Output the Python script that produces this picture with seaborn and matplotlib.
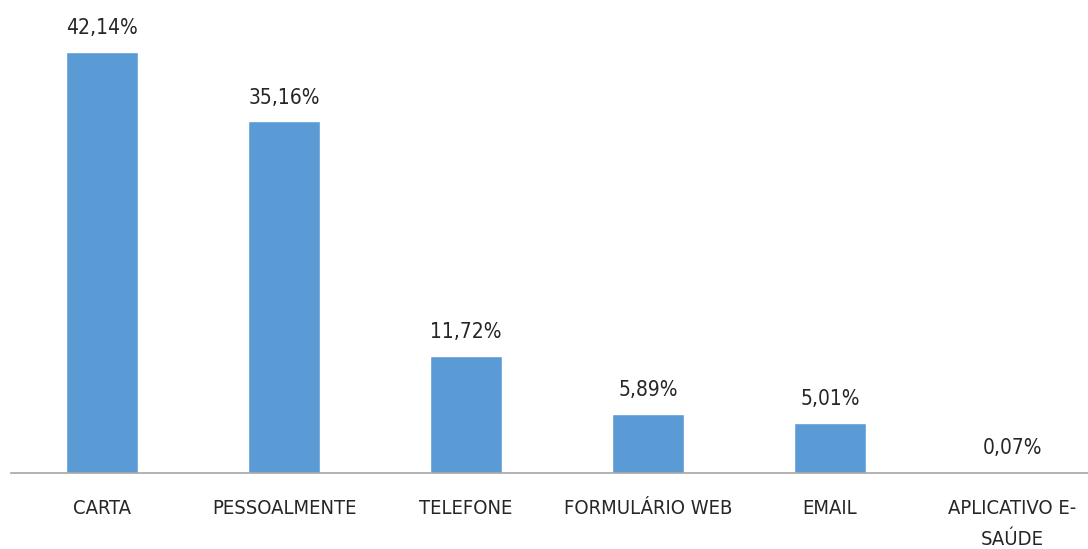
import matplotlib
matplotlib.use("Agg")
import matplotlib.pyplot as plt
import seaborn as sns
import pandas as pd

# Data
canais = ["CARTA", "PESSOALMENTE", "TELEFONE", "FORMULÁRIO WEB", "EMAIL", "APLICATIVO E-\nSAÚDE"]
percentuais = [42.14, 35.16, 11.72, 5.89, 5.01, 0.07]
rotulos = ["42,14%", "35,16%", "11,72%", "5,89%", "5,01%", "0,07%"]

df = pd.DataFrame({"canal": canais, "pct": percentuais})

sns.set_style("white")
plt.rcParams["font.family"] = ["DejaVu Sans"]
plt.rcParams["font.stretch"] = "condensed"

W, H = 1088, 549
fig = plt.figure(figsize=(W / 100, H / 100), dpi=100)
# category width ~182 px, first center at x=102, baseline at y=473
ax = fig.add_axes([11 / W, (H - 473) / H, 1092 / W, 450 / H])

sns.barplot(data=df, x="canal", y="pct", color="#5B9BD5", width=0.396,
            saturation=1, ax=ax)
ax.set_xlim(-0.5, 5.5)
ax.set_ylim(0, 45)

for i, (v, t) in enumerate(zip(percentuais, rotulos)):
    ax.annotate(t, (i, v), xytext=(0, 10), textcoords="offset points",
                ha="center", va="bottom", fontsize=15, color="#262626",
                fontstretch="condensed")

ax.set_xlabel("")
ax.set_ylabel("")
ax.set_yticks([])
for s in ["top", "right", "left"]:
    ax.spines[s].set_visible(False)
ax.spines["bottom"].set_color("#A6A6A6")
ax.spines["bottom"].set_linewidth(1.2)
ax.tick_params(axis="x", length=0, pad=19, labelsize=14.5, labelcolor="#262626")
for lbl in ax.get_xticklabels():
    lbl.set_linespacing(1.75)
    lbl.set_verticalalignment("top")
    lbl.set_fontstretch("condensed")

fig.savefig("out.png", dpi=100)
